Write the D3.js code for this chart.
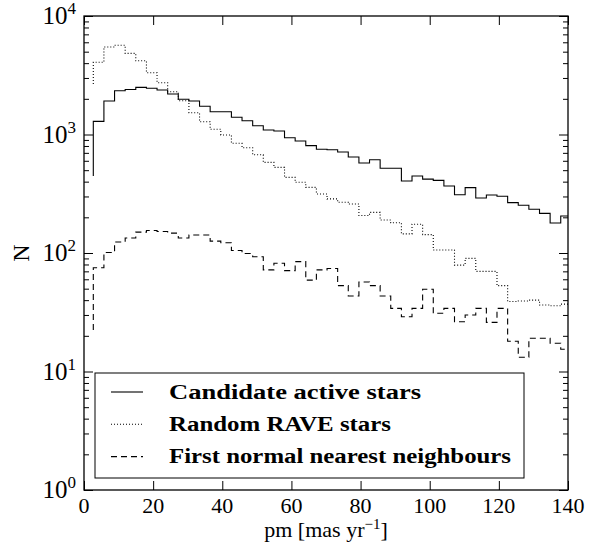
<!DOCTYPE html>
<html>
<head>
<meta charset="utf-8">
<script src="https://cdn.jsdelivr.net/npm/d3@7"></script>
<style>
  body { margin: 0; background: #fff; }
  text { font-family: "Liberation Serif", "DejaVu Serif", serif; fill: #000; }
</style>
</head>
<body>
<div id="chart"></div>
<script>
// proper motion bin positions (mas/yr), steps-pre style
var pmBins = [2.69, 5.76, 8.84, 11.91, 14.98, 18.06, 21.13, 24.20, 27.27, 30.35,
  33.42, 36.49, 39.57, 42.64, 45.71, 48.79, 51.86, 54.93, 58.00, 61.08,
  64.15, 67.22, 70.30, 73.37, 76.44, 79.52, 82.59, 85.66, 88.73, 91.81,
  94.88, 97.95, 101.03, 104.10, 107.17, 110.25, 113.32, 116.39, 119.46, 122.54,
  125.61, 128.68, 131.76, 134.83, 137.90, 140.98];

var activeCounts = [447, 1290, 1918, 2343, 2400, 2500, 2453, 2375, 2197, 1983,
  1918, 1730, 1557, 1557, 1397, 1308, 1187, 1091, 1071, 940,
  881, 805, 750, 744, 712, 646, 575, 613, 519, 519,
  405, 447, 420, 410, 368, 310, 356, 291, 309, 301,
  266, 253, 234, 216, 179, 205];

var raveCounts = [2670, 4066, 5480, 5660, 4842, 4190, 3324, 2735, 2296, 1928,
  1527, 1282, 1106, 991, 843, 774, 674, 582, 528, 435,
  395, 358, 315, 286, 268, 259, 207, 220, 190, 180,
  145, 175, 143, 106, 106, 79, 90, 70, 70, 53,
  39, 39.4, 40, 36.4, 35.9, 37];

var neighbourCounts = [22.4, 75, 101, 124, 134, 150, 155, 152, 147, 134,
  142, 142, 126, 122, 105, 99, 93, 72, 82, 71,
  84.5, 59, 72, 74, 53, 43.4, 57, 53, 43.4, 34.1,
  29, 34.1, 49.5, 31, 34.1, 26.3, 30, 34.1, 26, 34.1,
  18, 13.2, 19.1, 19.1, 17.3, 15.4];

var seriesNames = ["Candidate active stars", "Random RAVE stars", "First normal nearest neighbours"];
var xTicks = [0, 20, 40, 60, 80, 100, 120, 140];
var yDecades = [0, 1, 2, 3, 4];

var width = 602, height = 550;
var mLeft = 84, mRight = 568, mTop = 16, mBottom = 490;

var svg = d3.select("#chart").append("svg")
  .attr("width", width)
  .attr("height", height);

var x = d3.scaleLinear().domain([0, 140]).range([mLeft, mRight]);
var y = d3.scaleLog().domain([1, 1e4]).range([mBottom, mTop]);

svg.append("clipPath").attr("id", "plotclip")
  .append("rect")
  .attr("x", mLeft).attr("y", mTop)
  .attr("width", mRight - mLeft).attr("height", mBottom - mTop);

// minor ticks for log axis
var minorTicks = [];
yDecades.slice(0, 4).forEach(function(p) {
  for (var m = 2; m <= 9; m++) minorTicks.push(m * Math.pow(10, p));
});
var majorTicks = yDecades.map(function(p) { return Math.pow(10, p); });

function styleAxis(g) {
  g.select(".domain").remove();
  g.selectAll(".tick line").attr("stroke", "#000").attr("stroke-width", 1);
  g.selectAll(".tick text").remove();
}

// x ticks bottom / top (pointing in)
svg.append("g").attr("transform", "translate(0," + mBottom + ")")
  .call(d3.axisBottom(x).tickValues(xTicks).tickSize(-9)).call(styleAxis);
svg.append("g").attr("transform", "translate(0," + mTop + ")")
  .call(d3.axisTop(x).tickValues(xTicks).tickSize(-9)).call(styleAxis);

// y ticks left / right
svg.append("g").attr("transform", "translate(" + mLeft + ",0)")
  .call(d3.axisLeft(y).tickValues(majorTicks).tickSize(-9)).call(styleAxis);
svg.append("g").attr("transform", "translate(" + mLeft + ",0)")
  .call(d3.axisLeft(y).tickValues(minorTicks).tickSize(-5)).call(styleAxis);
svg.append("g").attr("transform", "translate(" + mRight + ",0)")
  .call(d3.axisRight(y).tickValues(majorTicks).tickSize(-9)).call(styleAxis);
svg.append("g").attr("transform", "translate(" + mRight + ",0)")
  .call(d3.axisRight(y).tickValues(minorTicks).tickSize(-5)).call(styleAxis);

// x tick labels
svg.selectAll("text.xlab").data(xTicks).enter().append("text")
  .attr("class", "xlab")
  .attr("x", function(d) { return x(d); })
  .attr("y", mBottom + 23)
  .attr("text-anchor", "middle")
  .attr("font-size", 22)
  .text(function(d) { return d; });

// y tick labels 10^n
var ylab = svg.selectAll("text.ylab").data(yDecades).enter().append("text")
  .attr("class", "ylab")
  .attr("x", mLeft - 8)
  .attr("y", function(d) { return y(Math.pow(10, d)) + 8; })
  .attr("text-anchor", "end")
  .attr("font-size", 25);
ylab.append("tspan").text("10");
ylab.append("tspan").attr("dy", -10).attr("font-size", 17)
  .text(function(d) { return d; });

// axis titles
var xt = svg.append("text")
  .attr("x", (mLeft + mRight) / 2)
  .attr("y", mBottom + 47)
  .attr("text-anchor", "middle")
  .attr("font-size", 22);
xt.append("tspan").text("pm [mas yr");
xt.append("tspan").attr("dy", -8).attr("font-size", 15).text("\u22121");
xt.append("tspan").attr("dy", 8).text("]");

svg.append("text")
  .attr("transform", "translate(29," + y(100) + ") rotate(-90)")
  .attr("text-anchor", "middle")
  .attr("font-size", 24)
  .text("N");

// step lines
var line = d3.line()
  .x(function(d, i) { return x(pmBins[i]); })
  .y(function(d) { return y(d); })
  .curve(d3.curveStepBefore);

var series = [
  { values: activeCounts, dash: null },
  { values: raveCounts, dash: "1,2" },
  { values: neighbourCounts, dash: "6,4" }
];

var lines = svg.append("g").attr("clip-path", "url(#plotclip)");
series.forEach(function(s) {
  lines.append("path")
    .datum(s.values)
    .attr("fill", "none")
    .attr("stroke", "#000")
    .attr("stroke-width", 1.1)
    .attr("stroke-dasharray", s.dash)
    .attr("d", line);
});

// frame
svg.append("rect")
  .attr("x", mLeft).attr("y", mTop)
  .attr("width", mRight - mLeft).attr("height", mBottom - mTop)
  .attr("fill", "none").attr("stroke", "#000").attr("stroke-width", 1.3);

// legend
var legend = svg.append("g");
legend.append("rect")
  .attr("x", 95).attr("y", 373).attr("width", 429).attr("height", 105)
  .attr("fill", "#fff").attr("stroke", "#000").attr("stroke-width", 1);
var legendWidths = [252, 222, 342];
series.forEach(function(s, i) {
  var ly = 392 + i * 32.3;
  legend.append("line")
    .attr("x1", 111).attr("x2", 143).attr("y1", ly).attr("y2", ly)
    .attr("stroke", "#000").attr("stroke-width", 1.1)
    .attr("stroke-dasharray", s.dash);
  legend.append("text")
    .attr("x", 169).attr("y", ly + 6.5)
    .attr("font-size", 20)
    .attr("font-weight", "bold")
    .attr("textLength", legendWidths[i])
    .attr("lengthAdjust", "spacingAndGlyphs")
    .text(seriesNames[i]);
});
</script>
</body>
</html>
